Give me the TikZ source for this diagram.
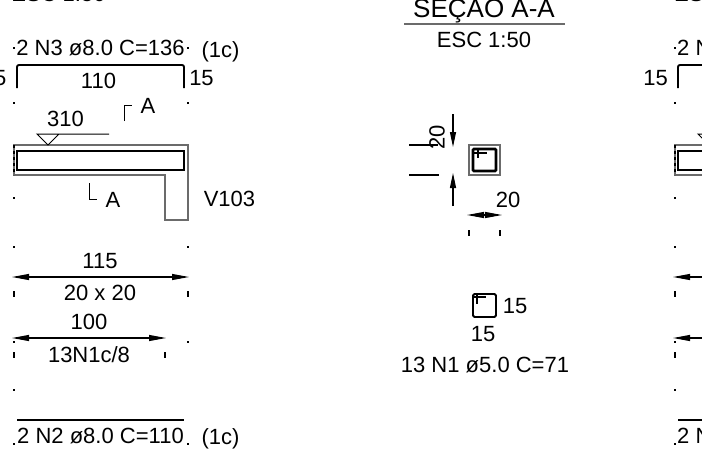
\documentclass[tikz,border=0pt]{standalone}
\usepackage{fontspec}
\setmainfont{Liberation Sans}
\usetikzlibrary{arrows.meta}
\definecolor{outl}{gray}{0.42}
\tikzset{
  lbl/.style={inner sep=0pt, font=\fontsize{22}{24}\selectfont},
  dot/.style={fill=black, inner sep=0pt, minimum size=2.6pt, rectangle},
  bar/.style={line width=2.6pt, black},
  concrete/.style={line width=1.15pt, outl},
  dim/.style={line width=1.1pt}
}
\begin{document}
\begin{tikzpicture}[x=1pt,y=-1pt]
\def\l{17pt}
\def\w{6pt}
\useasboundingbox (0,0) rectangle (702,450);
\clip (0,0) rectangle (702,450);
\fill[white] (0,0) rectangle (702,450);
% beam, left one and the start of the right one
\foreach \dx in {0,661}{
  \foreach \yy in {48,103,150,198,247,294,342,390,444}{
    \node [dot, name=pl\dx y\yy] at (14+\dx,\yy) {};
  }
  \foreach \yy in {48,103,150,198,247,342,444}{
    \node [dot, name=pr\dx y\yy] at (188+\dx,\yy) {};
  }
  \coordinate (br1\dx) at (17+\dx,88);
  \coordinate (br2\dx) at (17+\dx,65);
  \coordinate (br3\dx) at (184+\dx,65);
  \coordinate (br4\dx) at (184+\dx,88);
  \draw [bar, line width=1.9pt, rounded corners=2pt] (br1\dx) -- (br2\dx) -- (br3\dx) -- (br4\dx);
  \coordinate (co1\dx) at (14+\dx,145);
  \coordinate (co2\dx) at (188+\dx,145);
  \coordinate (co3\dx) at (188+\dx,220);
  \coordinate (co4\dx) at (165+\dx,220);
  \coordinate (co5\dx) at (165+\dx,175);
  \coordinate (co6\dx) at (14+\dx,175);
  \draw [concrete] (co1\dx) -- (co2\dx) -- (co3\dx) -- (co4\dx) -- (co5\dx) -- (co6\dx) -- cycle;
  \draw [line width=1.2pt, black, dashed] (co1\dx) -- (co6\dx);
  \coordinate (rb1\dx) at (17+\dx,151);
  \coordinate (rb2\dx) at (184+\dx,170);
  \draw [bar] (rb1\dx) rectangle (rb2\dx);
  \coordinate (tr1\dx) at (37+\dx,134);
  \coordinate (tr2\dx) at (59+\dx,134);
  \coordinate (tr3\dx) at (48+\dx,145);
  \coordinate (tr4\dx) at (109+\dx,134);
  \draw [line width=1pt] (tr4\dx) -- (tr2\dx) -- (tr3\dx) -- (tr1\dx) -- (tr2\dx);
  \coordinate (a1\dx) at (12+\dx,277);
  \coordinate (a2\dx) at (189+\dx,277);
  \draw [dim, {Stealth[inset=0pt, length=\l, width=\w]}-{Stealth[inset=0pt, length=\l, width=\w]}] (a1\dx) -- (a2\dx);
  \coordinate (a3\dx) at (12+\dx,338);
  \coordinate (a4\dx) at (166+\dx,338);
  \draw [dim, {Stealth[inset=0pt, length=\l, width=\w]}-{Stealth[inset=0pt, length=\l, width=\w]}] (a3\dx) -- (a4\dx);
  \coordinate (b1\dx) at (17+\dx,420);
  \coordinate (b2\dx) at (184+\dx,420);
  \draw [bar, line width=1.9pt] (b1\dx) -- (b2\dx);
  \coordinate (t1\dx) at (14+\dx,291);
  \coordinate (t2\dx) at (14+\dx,297);
  \draw [line width=1.4pt] (t1\dx) -- (t2\dx);
  \coordinate (t3\dx) at (14+\dx,352);
  \coordinate (t4\dx) at (14+\dx,358);
  \draw [line width=1.1pt] (t3\dx) -- (t4\dx);
}
\coordinate (t5) at (188,291);
\coordinate (t6) at (188,297);
\draw [line width=1.4pt] (t5) -- (t6);
\coordinate (t7) at (165,352);
\coordinate (t8) at (165,358);
\draw [line width=1.1pt] (t7) -- (t8);
% section marks
\coordinate (m1) at (124.5,121);
\coordinate (m2) at (124.5,105);
\coordinate (m3) at (132,105);
\draw [line width=1pt] (m1) -- (m2) -- (m3);
\coordinate (m4) at (89,183);
\coordinate (m5) at (89,199);
\coordinate (m6) at (97,199);
\draw [line width=1pt] (m4) -- (m5) -- (m6);
% left labels
\node [lbl, name=esc1]  at (58.5,-6) {ESC 1:50};
\node [lbl, name=n3]    at (100.5,48) {2 N3 ø8.0 C=136};
\node [lbl, name=c1]    at (220.5,52) {(1c)};
\node [lbl, anchor=east, name=q1] at (6.5,78) {15};
\node [lbl, name=q2]    at (98.5,81) {110};
\node [lbl, name=q3]    at (201.5,78) {15};
\node [lbl, name=q4]    at (65.5,119) {310};
\node [lbl, name=sa1]   at (148,106) {A};
\node [lbl, name=sa2]   at (113,200) {A};
\node [lbl, name=v103]  at (229.5,199) {V103};
\node [lbl, name=q5]    at (100,261) {115};
\node [lbl, name=q6]    at (100,293) {20 x 20};
\node [lbl, name=q7]    at (89,322) {100};
\node [lbl, name=q8]    at (89,355) {13N1c/8};
\node [lbl, name=n2]    at (100.5,436) {2 N2 ø8.0 C=110};
\node [lbl, name=c2]    at (220.5,439) {(1c)};
% right labels
\node [lbl, anchor=west, name=esc2] at (674,-6) {ESC 1:50};
\node [lbl, anchor=west, name=n3b]  at (677,48) {2 N};
\node [lbl, anchor=east, name=q9]   at (668,78) {15};
\node [lbl, anchor=west, name=n2b]  at (677,436) {2 N};
% section
\node [lbl, anchor=base, font=\fontsize{26}{28}\selectfont, name=sec] at (484,17) {SEÇAO A-A};
\coordinate (s1) at (404,24);
\coordinate (s2) at (565,24);
\draw [concrete] (s1) -- (s2);
\node [lbl, name=esc3] at (484,40) {ESC 1:50};
\node [lbl, rotate=90, name=q10] at (437,137) {20};
\coordinate (d1) at (409,145);
\coordinate (d2) at (438,145);
\coordinate (d3) at (409,175);
\coordinate (d4) at (439,175);
\draw [line width=1.1pt] (d1) -- (d2);
\draw [line width=1.1pt] (d3) -- (d4);
\coordinate (d5) at (453,114);
\coordinate (d6) at (453,147);
\coordinate (d7) at (453,206);
\coordinate (d8) at (453,173);
\draw [dim, -{Stealth[inset=0pt, length=15pt, width=\w]}] (d5) -- (d6);
\draw [dim, -{Stealth[inset=0pt, length=15pt, width=\w]}] (d7) -- (d8);
\coordinate (g1) at (469,145);
\coordinate (g2) at (500,175);
\draw [concrete] (g1) rectangle (g2);
\coordinate (k1) at (473,149);
\coordinate (k2) at (496,171);
\draw [bar, rounded corners=1pt] (k1) rectangle (k2);
\coordinate (k3) at (478,148);
\coordinate (k4) at (478,158);
\coordinate (k5) at (474,153);
\coordinate (k6) at (487,153);
\draw [line width=1.6pt] (k3) -- (k4);
\draw [line width=1.6pt] (k5) -- (k6);
\node [lbl, name=q11] at (508,200) {20};
\coordinate (h1) at (467,215);
\coordinate (h2) at (502,215);
\draw [dim, {Stealth[inset=0pt, length=17pt, width=\w]}-{Stealth[inset=0pt, length=17pt, width=\w]}] (h1) -- (h2);
\coordinate (h3) at (469,230);
\coordinate (h4) at (469,236);
\coordinate (h5) at (500,230);
\coordinate (h6) at (500,236);
\draw [line width=1.1pt] (h3) -- (h4);
\draw [line width=1.1pt] (h5) -- (h6);
% stirrup
\coordinate (k7) at (473,294);
\coordinate (k8) at (496,317);
\draw [line width=1.9pt, rounded corners=1.5pt] (k7) rectangle (k8);
\coordinate (k9) at (477,294);
\coordinate (k10) at (477,304);
\coordinate (k11) at (474,297);
\coordinate (k12) at (486,297);
\draw [line width=1.5pt] (k9) -- (k10);
\draw [line width=1.5pt] (k11) -- (k12);
\node [lbl, name=q12] at (515,306) {15};
\node [lbl, name=q13] at (483,334) {15};
\node [lbl, name=n1]  at (485,365) {13 N1 ø5.0 C=71};
\end{tikzpicture}
\end{document}
